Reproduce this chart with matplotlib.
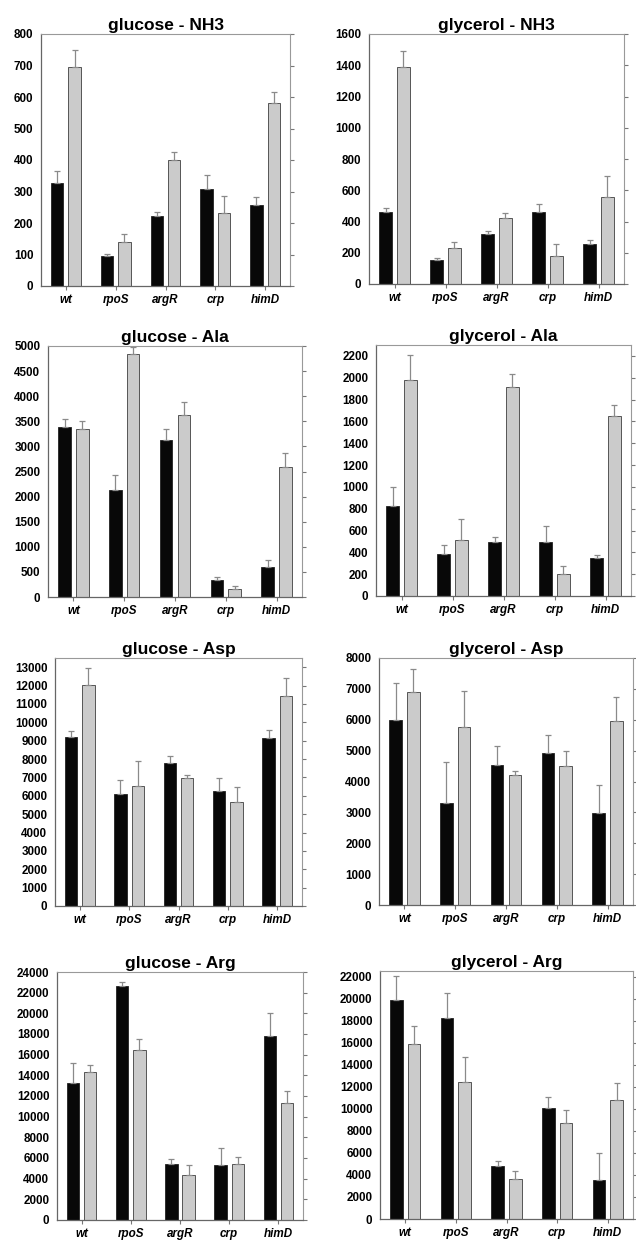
import numpy as np
import matplotlib
matplotlib.use("Agg")
import matplotlib.pyplot as plt

plt.rcParams["font.family"] = ["Liberation Sans", "DejaVu Sans"]

# ===== 数据 =====
strains = ["wt", "rpoS", "argR", "crp", "himD"]
titles = ["glucose - NH3", "glycerol - NH3", "glucose - Ala", "glycerol - Ala",
          "glucose - Asp", "glycerol - Asp", "glucose - Arg", "glycerol - Arg"]

black_vals = [
    [328, 95, 222, 309, 256],
    [462, 153, 317, 460, 258],
    [3393, 2138, 3127, 332, 598],
    [828, 385, 495, 492, 348],
    [9218, 6073, 7800, 6255, 9145],
    [5984, 3310, 4528, 4927, 2976],
    [13273, 22680, 5380, 5284, 17816],
    [19885, 18222, 4805, 10063, 3566],
]
black_err = [
    [38, 7, 14, 43, 26],
    [24, 13, 22, 55, 21],
    [146, 299, 213, 66, 139],
    [174, 86, 46, 150, 28],
    [327, 782, 364, 690, 455],
    [1197, 1315, 626, 593, 905],
    [1933, 322, 516, 1643, 2190],
    [2145, 2297, 484, 967, 2448],
]
gray_vals = [
    [694, 139, 399, 233, 580],
    [1389, 230, 424, 181, 554],
    [3353, 4834, 3632, 153, 2596],
    [1980, 516, 1919, 205, 1650],
    [12036, 6527, 6982, 5655, 11436],
    [6889, 5757, 4205, 4518, 5962],
    [14304, 16495, 4317, 5445, 11340],
    [15866, 12451, 3657, 8703, 10758],
]
gray_err = [
    [56, 26, 25, 53, 36],
    [102, 38, 28, 75, 140],
    [146, 146, 259, 73, 279],
    [229, 190, 119, 70, 98],
    [928, 1364, 163, 836, 1000],
    [766, 1186, 151, 474, 787],
    [676, 1031, 967, 612, 1192],
    [1632, 2206, 665, 1209, 1572],
]
y_top = [800, 1600, 5000, 2300, 13500, 8000, 24000, 22500]
y_tick_max = [800, 1600, 5000, 2200, 13000, 8000, 24000, 22000]
y_step = [100, 200, 500, 200, 1000, 1000, 2000, 2000]

# 各子图像素边界 (left, right, top, bottom)
W, H = 636, 1242
boxes = [
    (41, 290, 34, 286), (369, 624, 34, 284),
    (48, 302, 346, 597), (376, 631, 345, 596),
    (55, 302, 658, 906), (379, 633, 658, 905),
    (57, 303, 972, 1220), (380, 633, 971, 1219),
]
TICK_FS = 8.4

fig = plt.figure(figsize=(W / 100, H / 100), dpi=100)
x = np.arange(len(strains))
bw = 0.25
off = 0.175

for i in range(8):
    l, r, t, b = boxes[i]
    ax = fig.add_axes([l / W, 1 - b / H, (r - l) / W, (b - t) / H])
    ax.bar(x - off, black_vals[i], bw, color="#080808", edgecolor="#222222", lw=0.6,
           yerr=[np.zeros(5), black_err[i]], ecolor="#8a8a8a",
           error_kw=dict(elinewidth=0.9, capsize=2, capthick=0.9), zorder=2)
    ax.bar(x + off, gray_vals[i], bw, color="#cbcbcb", edgecolor="#555555", lw=0.7,
           yerr=[np.zeros(5), gray_err[i]], ecolor="#8a8a8a",
           error_kw=dict(elinewidth=0.9, capsize=2, capthick=0.9), zorder=2)
    ax.set_xlim(-0.5, 4.5)
    ax.set_ylim(0, y_top[i])
    ax.set_yticks(np.arange(0, y_tick_max[i] + 1, y_step[i]))
    ax.set_xticks(x)
    ax.set_xticklabels(strains, fontsize=TICK_FS, fontweight="bold", style="italic")
    for lab in ax.get_yticklabels():
        lab.set_fontsize(TICK_FS)
        lab.set_fontweight("bold")
    ax.tick_params(axis="y", left=False, right=True, direction="out", length=3,
                   color="#777777", pad=2.5)
    ax.tick_params(axis="x", direction="out", length=3, color="#777777", pad=3)
    for s in ["top", "right"]:
        ax.spines[s].set_color("#999999")
        ax.spines[s].set_linewidth(0.8)
    for s in ["left", "bottom"]:
        ax.spines[s].set_color("#666666")
        ax.spines[s].set_linewidth(0.9)
    ax.set_title(titles[i], fontsize=12.5, fontweight="bold", pad=3)

plt.savefig("out.png", dpi=100)
plt.close()
